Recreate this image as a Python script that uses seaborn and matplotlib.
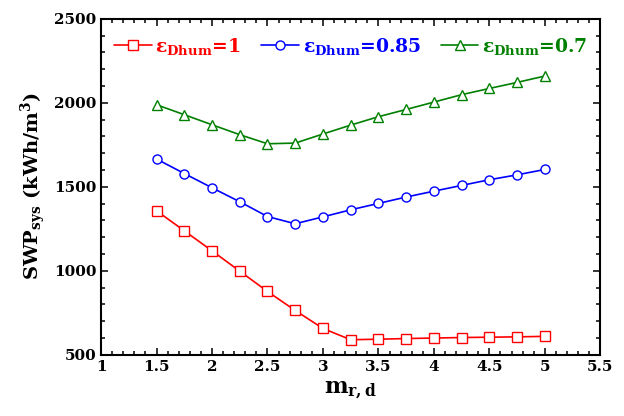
import matplotlib
matplotlib.use("Agg")
import numpy as np
import pandas as pd
import matplotlib.pyplot as plt
from matplotlib.ticker import MultipleLocator, FuncFormatter
import seaborn as sns

# data
m_rd = [1.5, 1.75, 2.0, 2.25, 2.5, 2.75, 3.0, 3.25, 3.5, 3.75, 4.0, 4.25, 4.5, 4.75, 5.0]
swp_eps_1 = [1357, 1238, 1119, 998, 877, 764, 657, 590, 593, 597, 600, 603, 605, 607, 610]
swp_eps_085 = [1665, 1579, 1494, 1411, 1323, 1280, 1321, 1363, 1401, 1439, 1474, 1508, 1542, 1571, 1603]
swp_eps_07 = [1988, 1929, 1869, 1810, 1756, 1760, 1814, 1867, 1917, 1960, 2004, 2048, 2085, 2121, 2159]

labels = [r"ε$_{\mathbf{Dhum}}$=1", r"ε$_{\mathbf{Dhum}}$=0.85", r"ε$_{\mathbf{Dhum}}$=0.7"]
colors = ["red", "blue", "green"]
markers = ["s", "o", "^"]

sns.set_style("ticks")
plt.rcParams["font.family"] = ["DejaVu Serif"]
plt.rcParams["font.weight"] = "bold"
plt.rcParams["mathtext.fontset"] = "dejavuserif"
plt.rcParams["mathtext.default"] = "bf"
for key in ["text.color", "axes.labelcolor", "xtick.color", "ytick.color", "axes.edgecolor"]:
    plt.rcParams[key] = "black"

fig, ax = plt.subplots(figsize=(6.24, 4.16), dpi=100)
fig.subplots_adjust(left=0.162, right=0.962, top=0.955, bottom=0.147)

for vals, lab, c, mk in zip([swp_eps_1, swp_eps_085, swp_eps_07], labels, colors, markers):
    df = pd.DataFrame({"m": m_rd, "swp": vals})
    sns.lineplot(data=df, x="m", y="swp", ax=ax, color=c, marker=mk, markersize=6.5,
                 markerfacecolor="white", markeredgecolor=c, markeredgewidth=1.0,
                 linewidth=1.2, label=lab)

ax.set_xlim(1, 5.5)
ax.set_ylim(500, 2500)
ax.xaxis.set_major_locator(MultipleLocator(0.5))
ax.xaxis.set_minor_locator(MultipleLocator(0.1))
ax.yaxis.set_major_locator(MultipleLocator(500))
ax.yaxis.set_minor_locator(MultipleLocator(100))
ax.xaxis.set_major_formatter(FuncFormatter(lambda v, p: f"{v:g}"))
ax.tick_params(which="both", direction="in", top=True, right=True, labelsize=11, width=1.1)
ax.tick_params(which="major", length=5)
ax.tick_params(which="minor", length=3)
for lbl in ax.get_xticklabels() + ax.get_yticklabels():
    lbl.set_fontweight("bold")
for sp in ax.spines.values():
    sp.set_linewidth(1.5)

ax.set_xlabel(r"m$_{\mathbf{r,d}}$", fontsize=16, fontweight="bold")
ax.set_ylabel(r"SWP$_{\mathbf{sys}}$ (kWh/m$^{\mathbf{3}}$)", fontsize=14, fontweight="bold")

ax.legend(loc="upper center", ncol=3, frameon=False, fontsize=13.5, labelcolor="linecolor",
          handlelength=2.0, handletextpad=0.2, columnspacing=1.1, bbox_to_anchor=(0.5, 1.0))

fig.savefig("out.png", dpi=100)
